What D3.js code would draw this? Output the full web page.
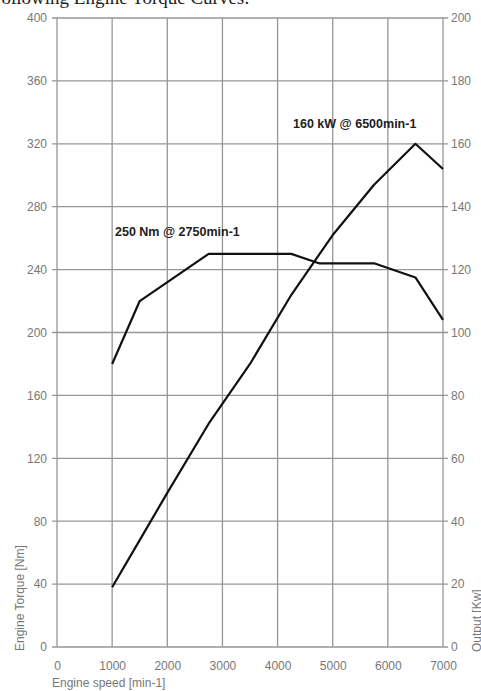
<!DOCTYPE html>
<html>
<head>
<meta charset="utf-8">
<script src="https://cdn.jsdelivr.net/npm/d3@7"></script>
<style>
body{margin:0;background:#fff;}
svg{display:block;}
</style>
</head>
<body>
<div id="chart"></div>
<script>
// engine speed ticks and the two curves
const speedTicks=[0,1000,2000,3000,4000,5000,6000,7000];
const torqueTicks=[0,40,80,120,160,200,240,280,320,360,400];
const outputTicks=[0,20,40,60,80,100,120,140,160,180,200];

const torqueRpm=[1000,1500,2750,4250,4750,5750,6500,7000];
const torqueNm=[180,220,250,250,244,244,235,208];

const powerRpm=[1000,1500,2000,2750,3500,4250,5000,5750,6500,7000];
const powerKw=[19,34,49,71,90,112,131,147,160,152];

const width=481,height=691;
const margin={top:18,right:38,bottom:44,left:57};

const svg=d3.select("#chart").append("svg")
    .attr("width",width)
    .attr("height",height);

const x=d3.scaleLinear().domain([0,7000]).range([margin.left,width-margin.right]);
const yT=d3.scaleLinear().domain([0,400]).range([height-margin.bottom,margin.top]);
const yP=d3.scaleLinear().domain([0,200]).range([height-margin.bottom,margin.top]);

const gridColor="#969696";
const labelColor="#777";

// title, mostly cut off by the top edge
svg.append("text")
    .attr("x",-9)
    .attr("y",4)
    .attr("font-family","Liberation Serif, serif")
    .attr("font-size",19)
    .attr("fill","#222")
    .text("Following Engine Torque Curves:");

// grid
const grid=svg.append("g");
grid.selectAll("line.v").data(speedTicks).enter().append("line")
    .attr("x1",d=>x(d)).attr("x2",d=>x(d))
    .attr("y1",yT(400)).attr("y2",yT(0))
    .attr("stroke",gridColor).attr("stroke-width",1.3);
grid.selectAll("line.h").data(torqueTicks).enter().append("line")
    .attr("x1",x(0)-5).attr("x2",x(7000)+5)
    .attr("y1",d=>yT(d)).attr("y2",d=>yT(d))
    .attr("stroke",gridColor).attr("stroke-width",1.3);

// axes (labels only, lines come from the grid)
const axisLeft=d3.axisLeft(yT).tickValues(torqueTicks).tickSize(0).tickPadding(10);
const axisRight=d3.axisRight(yP).tickValues(outputTicks).tickSize(0).tickPadding(8);
const axisBottom=d3.axisBottom(x).tickValues(speedTicks).tickSize(0).tickPadding(14).tickFormat(d3.format("d"));

function styleAxis(g){
    g.select(".domain").remove();
    g.selectAll("text")
     .attr("font-family","Liberation Sans, Arial, sans-serif")
     .attr("font-size",12)
     .attr("fill",labelColor);
}
svg.append("g").attr("transform","translate("+x(0)+",0)").call(axisLeft).call(styleAxis);
svg.append("g").attr("transform","translate("+x(7000)+",0)").call(axisRight).call(styleAxis);
svg.append("g").attr("transform","translate(0,"+yT(0)+")").call(axisBottom).call(styleAxis);

// axis titles
svg.append("text")
    .attr("x",52).attr("y",687)
    .attr("font-family","Liberation Sans, Arial, sans-serif")
    .attr("font-size",12).attr("fill",labelColor)
    .text("Engine speed [min-1]");
svg.append("text")
    .attr("transform","translate(24,651) rotate(-90)")
    .attr("font-family","Liberation Sans, Arial, sans-serif")
    .attr("font-size",12).attr("fill",labelColor)
    .text("Engine Torque [Nm]");
svg.append("text")
    .attr("transform","translate(481,652) rotate(-90)")
    .attr("font-family","Liberation Sans, Arial, sans-serif")
    .attr("font-size",12).attr("fill",labelColor)
    .text("Output [Kw]");

// curves
const torqueData=torqueRpm.map((r,i)=>({rpm:r,v:torqueNm[i]}));
const powerData=powerRpm.map((r,i)=>({rpm:r,v:powerKw[i]}));

svg.append("path").datum(torqueData)
    .attr("fill","none").attr("stroke","#111").attr("stroke-width",2.2)
    .attr("stroke-linejoin","round")
    .attr("d",d3.line().x(d=>x(d.rpm)).y(d=>yT(d.v)));
svg.append("path").datum(powerData)
    .attr("fill","none").attr("stroke","#111").attr("stroke-width",2.2)
    .attr("stroke-linejoin","round")
    .attr("d",d3.line().x(d=>x(d.rpm)).y(d=>yP(d.v)));

// annotations
svg.append("text")
    .attr("x",115).attr("y",236)
    .attr("font-family","Liberation Sans, Arial, sans-serif")
    .attr("font-size",12.5).attr("font-weight","bold").attr("fill","#222")
    .text("250 Nm @ 2750min-1");
svg.append("text")
    .attr("x",293).attr("y",128)
    .attr("font-family","Liberation Sans, Arial, sans-serif")
    .attr("font-size",12.5).attr("font-weight","bold").attr("fill","#222")
    .text("160 kW @ 6500min-1");
</script>
</body>
</html>
